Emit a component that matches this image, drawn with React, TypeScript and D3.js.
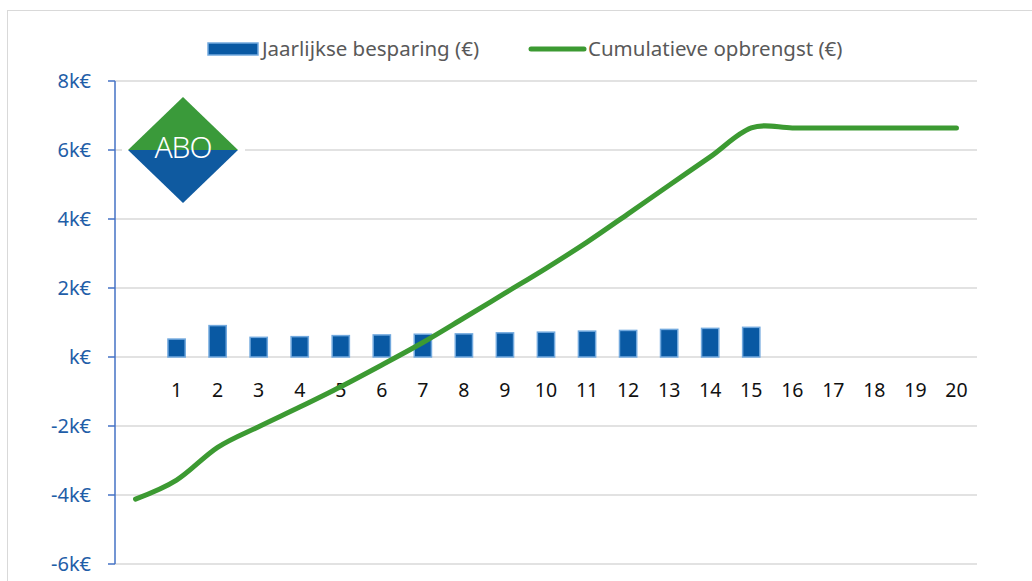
import * as d3 from 'd3';

// years 0..20 (year 0 has no label)
const years = d3.range(0, 21);
const yearLabels = ['', '1', '2', '3', '4', '5', '6', '7', '8', '9', '10', '11', '12', '13', '14', '15', '16', '17', '18', '19', '20'];

// Jaarlijkse besparing (€), years 1..15
const savingYears = d3.range(1, 16);
const savings = [520, 910, 570, 590, 620, 640, 660, 670, 700, 720, 750, 770, 800, 830, 860];

// Cumulatieve opbrengst (€), years 0..20
const cumulative = [-4120, -3570, -2620, -2020, -1450, -860, -230, 420, 1130, 1850, 2570, 3330, 4150, 4980, 5800, 6640, 6640, 6640, 6640, 6640, 6640];

const yTicks = [-6000, -4000, -2000, 0, 2000, 4000, 6000, 8000];
const yTickLabels = ['-6k€', '-4k€', '-2k€', 'k€', '2k€', '4k€', '6k€', '8k€'];

const W = 1032;
const H = 581;
const margin = { top: 81, right: 55, bottom: 17, left: 115 };

const FONT = "'Noto Sans', 'Open Sans', sans-serif";
const BAR_FILL = '#0959A3';
const BAR_STROKE = '#72A9DE';
const LINE = '#3C9A32';
const AXIS_BLUE = '#4472C4';
const TICK_TEXT = '#1F5EA8';

export default function App() {
  const x = d3.scaleBand<number>()
    .domain(years)
    .range([margin.left, W - margin.right])
    .padding(0);
  const bw = x.bandwidth();
  const cx = (d: number) => (x(d) || 0) + bw / 2;

  const y = d3.scaleLinear()
    .domain([-6000, 8000])
    .range([H - margin.bottom, margin.top]);

  const line = d3.line<number>()
    .x((_, i) => cx(years[i]))
    .y(d => y(d))
    .curve(d3.curveCardinal.tension(0));

  const barW = bw * 0.42;

  // logo geometry
  const lx = 183, ly = 150, hw = 55, hh = 53;

  return (
    <div style={{ position: 'fixed', left: 0, top: 0 }}>
      <svg width={W} height={H} style={{ display: 'block', background: '#fff' }}>
        <rect x={7.5} y={10.5} width={W} height={H} fill="#fff" stroke="#D9D9D9" strokeWidth={1} />

        {/* gridlines */}
        {yTicks.map(t => (
          <line key={t} x1={margin.left} x2={W - margin.right} y1={y(t)} y2={y(t)} stroke="#D9D9D9" strokeWidth={1.3} />
        ))}

        {/* logo */}
        <rect x={122} y={93} width={123} height={113} fill="#fff" />
        <path d={`M${lx - hw},${ly} L${lx},${ly - hh} L${lx + hw},${ly} Z`} fill="#3A9A3A" />
        <path d={`M${lx - hw},${ly} L${lx},${ly + hh} L${lx + hw},${ly} Z`} fill="#0F5AA0" />
        <text x={lx} y={ly + 8} textAnchor="middle" fill="#fff" fontFamily={FONT} fontSize={30} fontWeight={300} letterSpacing={-1}>ABO</text>

        {/* y axis */}
        <line x1={margin.left} x2={margin.left} y1={y(8000)} y2={y(-6000)} stroke={AXIS_BLUE} strokeWidth={1.5} />
        {yTicks.map((t, i) => (
          <g key={t}>
            <line x1={margin.left - 7} x2={margin.left} y1={y(t)} y2={y(t)} stroke={AXIS_BLUE} strokeWidth={1.5} />
            <text x={91} y={y(t) + 7} textAnchor="end" fill={TICK_TEXT} fontFamily={FONT} fontSize={20}>{yTickLabels[i]}</text>
          </g>
        ))}

        {/* bars */}
        {savings.map((v, i) => (
          <rect key={i} x={cx(savingYears[i]) - barW / 2} y={y(v)} width={barW} height={y(0) - y(v)}
            fill={BAR_FILL} stroke={BAR_STROKE} strokeWidth={1.5} />
        ))}

        {/* category labels */}
        {years.map((d, i) => (
          <text key={d} x={cx(d)} y={397} textAnchor="middle" fill="#111" fontFamily={FONT} fontSize={19.5}>{yearLabels[i]}</text>
        ))}

        {/* cumulative line */}
        <path d={line(cumulative) || ''} fill="none" stroke={LINE} strokeWidth={5} strokeLinecap="round" strokeLinejoin="round" />

        {/* legend */}
        <rect x={208} y={43} width={50} height={12} fill={BAR_FILL} stroke={BAR_STROKE} strokeWidth={1.5} />
        <text x={262} y={56} fill="#595959" fontFamily={FONT} fontSize={20.5}>Jaarlijkse besparing (€)</text>
        <line x1={531} x2={584} y1={49} y2={49} stroke={LINE} strokeWidth={5} strokeLinecap="round" />
        <text x={588} y={56} fill="#595959" fontFamily={FONT} fontSize={20.5}>Cumulatieve opbrengst (€)</text>
      </svg>
    </div>
  );
}
